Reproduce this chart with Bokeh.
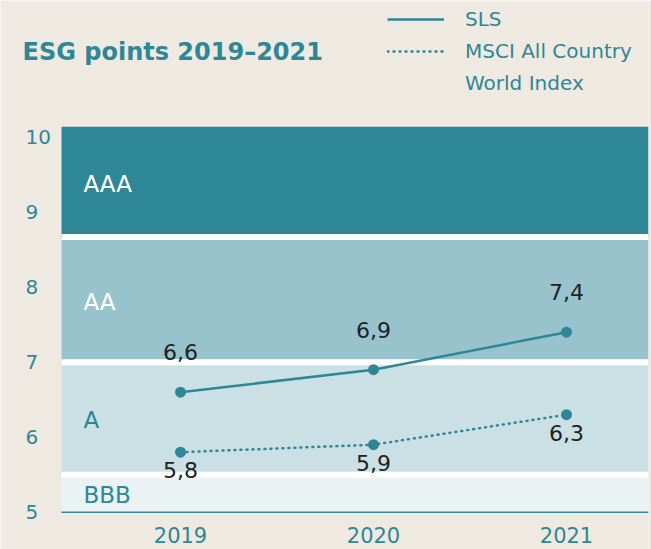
from bokeh.plotting import figure
from bokeh.models import Label, Legend, LegendItem
from bokeh.core.properties import value
from bokeh.embed import file_html
from bokeh.resources import INLINE

# ---- data ----
years = [2019, 2020, 2021]
year_labels = ["2019", "2020", "2021"]
sls = [6.6, 6.9, 7.4]
msci = [5.8, 5.9, 6.3]
y_ticks = [5, 6, 7, 8, 9, 10]
band_names = ["BBB", "A", "AA", "AAA"]
band_bounds = [5.0, 5.5, 7.0, 8.67, 10.14]
title_text = "ESG points 2019–2021"
legend_labels = ["SLS", "MSCI All Country", "World Index"]

# ---- style ----
BG = "#EFEAE1"
TEAL = "#2E8797"
DARK = "#222222"
band_colors = ["#EAF2F4", "#CBE0E5", "#98C3CC", "#2E8797"]
band_text_colors = [TEAL, TEAL, "white", "white"]
FONT = "DejaVu Sans"

W, H = 651, 549
PX_PER_YEAR = 193.0
PX_PER_UNIT = 75.0
AXIS_PX = 511.7                          # canvas px (from top) of value 5
X_START = 2019 - 180 / PX_PER_YEAR
X_END = 2019 + 468 / PX_PER_YEAR
X_LEFT = 2019 - 119 / PX_PER_YEAR        # left edge of the banded plot area
Y_BASE = 5.0
Y_START = Y_BASE - (H - AXIS_PX) / PX_PER_UNIT
Y_END = Y_BASE + AXIS_PX / PX_PER_UNIT

p = figure(width=W, height=H, output_backend="svg", toolbar_location=None,
           x_range=(X_START, X_END), y_range=(Y_START, Y_END),
           x_axis_location=None, y_axis_location=None,
           background_fill_color=BG, border_fill_color=BG,
           min_border_left=0, min_border_right=3, min_border_top=0,
           min_border_bottom=0)
p.outline_line_color = None
p.grid.visible = False

# bands
p.quad(left=X_LEFT, right=X_END, bottom=band_bounds[:-1], top=band_bounds[1:],
       fill_color=band_colors, line_color=None)
inner = band_bounds[1:-1]
p.segment(x0=[X_LEFT] * len(inner), x1=[X_END] * len(inner), y0=inner, y1=inner,
          line_color="white", line_width=6, line_cap="butt")
mids = [(a + b) / 2 for a, b in zip(band_bounds[:-1], band_bounds[1:])]
p.text(x=[X_LEFT] * len(band_names), y=mids, text=band_names,
       text_color=band_text_colors, text_font=value(FONT), text_font_size="23px",
       text_align="left", text_baseline="middle", x_offset=22, y_offset=2)

# x axis line and year labels
p.segment(x0=[X_LEFT], x1=[X_END], y0=[Y_BASE], y1=[Y_BASE],
          line_color=TEAL, line_width=1.5)
p.text(x=years, y=[Y_BASE] * len(years), text=year_labels, text_color=TEAL,
       text_font=value(FONT), text_font_size="21px", text_align="center",
       text_baseline="middle", y_offset=23)

# y tick labels
p.text(x=[X_START + 25 / PX_PER_YEAR] * len(y_ticks), y=y_ticks,
       text=[str(t) for t in y_ticks], text_color=TEAL, text_font=value(FONT),
       text_font_size="20px", text_align="left", text_baseline="middle")

# lines
sls_line = p.line(years, sls, line_color=TEAL, line_width=2.5)
p.scatter(years, sls, size=11, fill_color=TEAL, line_color=None)
msci_line = p.line(years, msci, line_color=TEAL, line_width=2.5,
                   line_dash="1 5", line_cap="round")
p.scatter(years, msci, size=11, fill_color=TEAL, line_color=None)

fmt = lambda v: f"{v:.1f}".replace(".", ",")
p.text(x=years, y=sls, text=[fmt(v) for v in sls], text_color=DARK,
       text_font=value(FONT), text_font_size="22px", text_align="center",
       text_baseline="middle", y_offset=-40)
p.text(x=years, y=msci, text=[fmt(v) for v in msci], text_color=DARK,
       text_font=value(FONT), text_font_size="22px", text_align="center",
       text_baseline="middle", y_offset=18)

# title (screen units relative to the frame's lower-left corner)
p.add_layout(Label(x=22, y=H - 51, x_units="screen", y_units="screen",
                   text=title_text, text_font=FONT, text_font_size="24px",
                   text_font_style="bold", text_color=TEAL,
                   text_align="left", text_baseline="middle"))

legend = Legend(items=[LegendItem(label=legend_labels[0], renderers=[sls_line]),
                       LegendItem(label=legend_labels[1], renderers=[msci_line]),
                       LegendItem(label=legend_labels[2], renderers=[])],
                location=(387, H - 95), glyph_width=57, glyph_height=24,
                label_height=24, label_standoff=21, padding=0, spacing=8,
                margin=0, label_text_font=FONT, label_text_font_size="20px",
                label_text_color=TEAL, background_fill_alpha=0,
                border_line_alpha=0)
p.add_layout(legend)

open("out.html", "w").write(file_html(p, INLINE))
